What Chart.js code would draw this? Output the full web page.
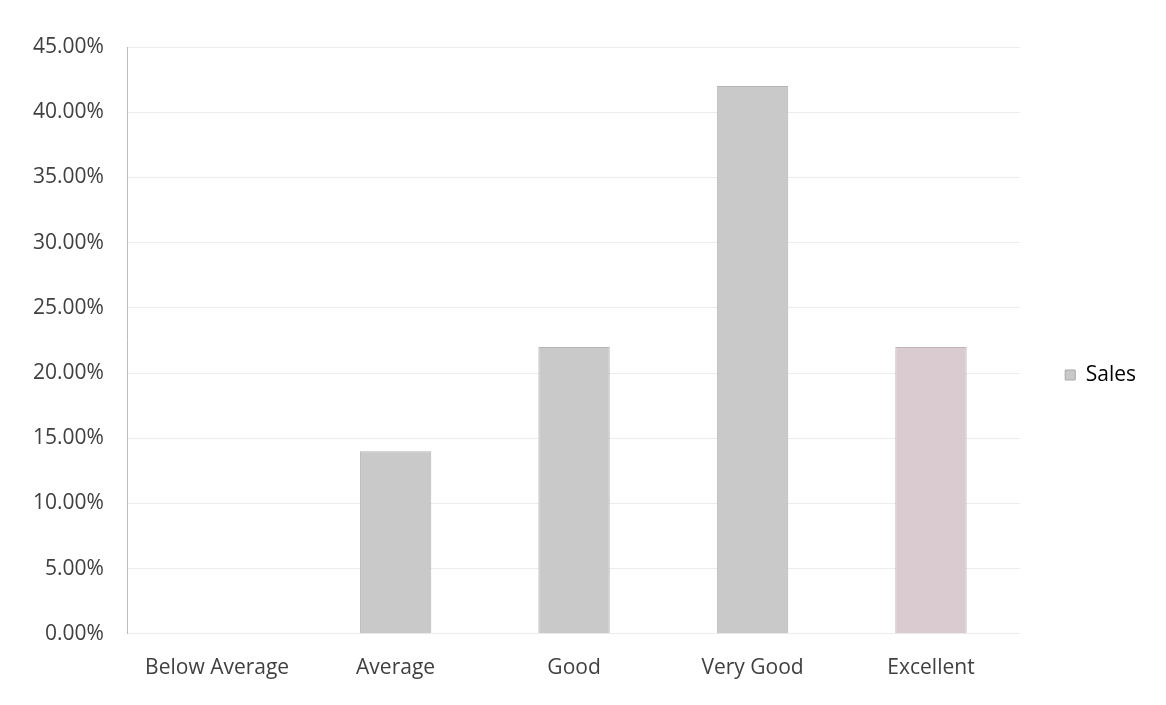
<!DOCTYPE html>
<html>
<head>
<meta charset="utf-8">
<script src="https://cdn.jsdelivr.net/npm/chart.js@4"></script>
<style>
  html, body { margin: 0; padding: 0; background: #ffffff; }
  #wrap { width: 1166px; height: 705px; }
</style>
</head>
<body>
<div id="wrap"><canvas id="chart"></canvas></div>
<script>
// values
const categories = ['Below Average', 'Average', 'Good', 'Very Good', 'Excellent'];
const salesValues = [0, 14, 22, 42, 22];
const seriesName = 'Sales';
const yMax = 45;
const yStep = 5;

const barColors = ['#c9c9c9', '#c9c9c9', '#c9c9c9', '#c9c9c9', '#d9cbcf'];
const barBorders = ['#b4b4b4', '#b4b4b4', '#b4b4b4', '#b4b4b4', '#c2b3b8'];
const labelFont = { family: 'Open Sans', size: 21 };

const ctx = document.getElementById('chart').getContext('2d');
new Chart(ctx, {
    type: 'bar',
    data: {
        labels: categories,
        datasets: [{
            label: seriesName,
            data: salesValues,
            backgroundColor: barColors,
            borderColor: barBorders,
            borderWidth: 1,
            barPercentage: 0.4,
            categoryPercentage: 1.0
        }]
    },
    options: {
        responsive: true,
        maintainAspectRatio: false,
        animation: false,
        layout: { padding: { top: 47, left: 9, right: 20, bottom: 2 } },
        plugins: {
            legend: {
                position: 'right',
                labels: {
                    color: '#404040',
                    font: labelFont,
                    boxWidth: 10,
                    boxHeight: 10,
                    padding: 45,
                    generateLabels: (chart) => [{
                        text: seriesName,
                        fillStyle: '#c9c9c9',
                        strokeStyle: '#a8a8a8',
                        lineWidth: 1,
                        datasetIndex: 0
                    }]
                }
            },
            tooltip: { enabled: false }
        },
        scales: {
            x: {
                grid: { display: false, drawTicks: false },
                border: { display: false },
                ticks: {
                    color: '#404040',
                    font: labelFont,
                    padding: 22,
                    maxRotation: 0
                }
            },
            y: {
                min: 0,
                max: yMax,
                grid: { color: '#ececec', drawTicks: false },
                border: { display: true, color: '#bdbdbd' },
                ticks: {
                    stepSize: yStep,
                    color: '#404040',
                    font: labelFont,
                    padding: 24,
                    callback: (v) => v.toFixed(2) + '%'
                }
            }
        }
    }
});
</script>
</body>
</html>
